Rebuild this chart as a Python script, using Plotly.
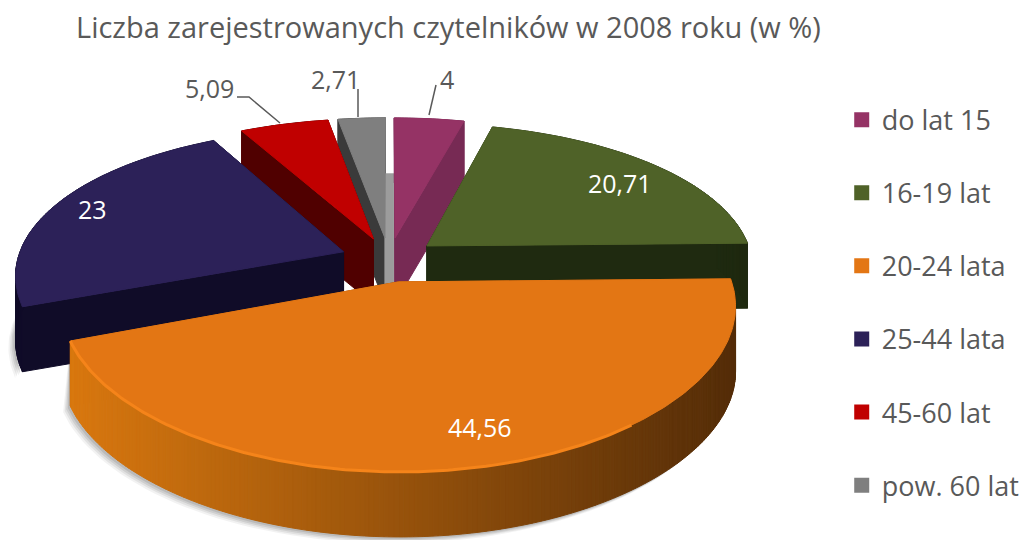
import math
import plotly.graph_objects as go

categories = ["do lat 15", "16-19 lat", "20-24 lata", "25-44 lata", "45-60 lat", "pow. 60 lat"]
values = [4, 20.71, 44.56, 23, 5.09, 2.71]
value_labels = ["4", "20,71", "44,56", "23", "5,09", "2,71"]
top_colors = ["#953365", "#4f6228", "#e37614", "#2c2158", "#c00000", "#7f7f7f"]
wall_colors = ["#772a54", "#1f2a10", "#8a4a0c", "#100c28", "#500000", "#3a3a3a"]
legend_colors = ["#953365", "#4f6228", "#e37614", "#2c2158", "#c00000", "#7f7f7f"]
title = "Liczba zarejestrowanych czytelników w 2008 roku (w %)"

# projection of the tilted disc
CX, CY, AX, BY, PX, PY, THICK, EXPLODE = 389, 259.5, 326, 148, 0.145, 0.175, 65, 0.15


def project(X, Y, drop=0):
    return CX + AX * X / (1 - PX * Y), CY + BY * Y / (1 - PY * Y) + drop


def polar(theta, r=1.0):
    return r * math.sin(theta), -r * math.cos(theta)


fig = go.Figure()


def poly(xs, ys, color, opacity=1, width=1):
    fig.add_trace(go.Scatter(x=xs, y=ys, mode="lines", fill="toself", fillcolor=color,
                             line=dict(color=color, width=width), opacity=opacity,
                             hoverinfo="skip", showlegend=False))


def mix(c1, c2, t):
    a = [int(c1[i:i + 2], 16) for i in (1, 3, 5)]
    b = [int(c2[i:i + 2], 16) for i in (1, 3, 5)]
    return "#%02x%02x%02x" % tuple(round(a[i] + (b[i] - a[i]) * t) for i in range(3))


total = sum(values)
slices = []
start = 0.0
for i, v in enumerate(values):
    sweep = v / total * 2 * math.pi
    slices.append((i, start, start + sweep))
    start += sweep


def geom(s0, s1, n):
    mid = (s0 + s1) / 2
    ex, ey = polar(mid, EXPLODE)
    rim = []
    for k in range(n + 1):
        X, Y = polar(s0 + (s1 - s0) * k / n)
        rim.append((X + ex, Y + ey))
    return (ex, ey), rim


def draw_shadow(s0, s1):
    apex, rim = geom(s0, s1, 80)
    front = [p for p in rim if p[1] > -0.12]
    if len(front) < 2:
        return
    for off, op in ((9, 0.10), (7, 0.14), (5, 0.2), (3, 0.25)):
        xs, ys = [], []
        for X, Y in front:
            x, y = project(X, Y, THICK)
            xs.append(x - off * 0.8)
            ys.append(y + off * 0.7)
        for X, Y in reversed(front):
            x, y = project(X, Y, 0)
            xs.append(x)
            ys.append(y)
        poly(xs, ys, "#808080", op, 0)


def draw_slice(i, s0, s1):
    apex, rim = geom(s0, s1, max(12, int((s1 - s0) * 80)))
    faces = []
    for edge in (rim[0], rim[-1]):
        depth = (apex[1] + edge[1]) / 2
        faces.append((depth, [apex, edge], None))
    for k in range(len(rim) - 1):
        faces.append(((rim[k][1] + rim[k + 1][1]) / 2 + 0.3, [rim[k], rim[k + 1]], k))
    faces.sort(key=lambda f: f[0])
    for _, (a, b), k in faces:
        x1, y1 = project(*a)
        x2, y2 = project(*b)
        x3, y3 = project(*b, THICK)
        x4, y4 = project(*a, THICK)
        color = wall_colors[i]
        if i == 2 and k is not None:
            t = min(1, max(0, ((x1 + x2) / 2 - 70) / 660))
            color = mix("#d9780f", "#552d08", t)
        poly([x1, x2, x3, x4, x1], [y1, y2, y3, y4, y1], color)
    if i == 5:
        # lit end wall of the last slice, seen between it and the first slice
        ax, ay = project(*apex)
        rx, ry = project(*rim[-1])
        poly([ax, ax + 9, ax + 9, ax, ax], [ry + 56, ry + 56, ay + THICK, ay + THICK, ry + 56], "#9c9c9c")
    pts = [apex] + rim + [apex]
    poly([project(*p)[0] for p in pts], [project(*p)[1] for p in pts], top_colors[i])
    if i == 2:
        lit = rim[len(rim) // 3:]
        fig.add_trace(go.Scatter(x=[project(*p)[0] for p in lit], y=[project(*p)[1] for p in lit],
                                 mode="lines", line=dict(color="#f5841a", width=3),
                                 hoverinfo="skip", showlegend=False))


for idx in (3, 2):
    draw_shadow(*slices[idx][1:])
for idx in (5, 0, 4, 1, 3, 2):
    draw_slice(*slices[idx])

# leader lines
for xs, ys in (([429, 436], [115, 85]), ([358, 358], [117, 89]), ([237, 249, 280], [97, 97, 123])):
    fig.add_trace(go.Scatter(x=xs, y=ys, mode="lines", line=dict(color="#595959", width=1.5),
                             hoverinfo="skip", showlegend=False))

# legend entries
for name, color in zip(categories, legend_colors):
    fig.add_trace(go.Scatter(x=[None], y=[None], mode="markers", name=name, legendgroup=name,
                             marker=dict(symbol="square", size=15, color=color)))

label_pos = [(447, 79, "#595959"), (620, 183, "#ffffff"), (480, 427, "#ffffff"),
             (92, 209, "#ffffff"), (209, 88, "#595959"), (335, 79, "#595959")]
annotations = [dict(x=p[0], y=p[1], text=t, showarrow=False, xref="x", yref="y",
                    font=dict(family="Open Sans, sans-serif", size=25, color=p[2]))
               for t, p in zip(value_labels, label_pos)]
annotations.append(dict(x=448, y=26, text=title, showarrow=False, xref="x", yref="y",
                        font=dict(family="Open Sans, sans-serif", size=29, color="#595959")))

fig.update_layout(
    width=1029, height=540, autosize=False,
    margin=dict(l=0, r=0, t=0, b=0, autoexpand=False), paper_bgcolor="white", plot_bgcolor="white",
    xaxis=dict(range=[0, 1029], visible=False, fixedrange=True),
    yaxis=dict(range=[540, 0], visible=False, fixedrange=True),
    annotations=annotations,
    legend=dict(x=0.818, y=0.823, xanchor="left", yanchor="top", tracegroupgap=35,
                font=dict(family="Open Sans, sans-serif", size=27, color="#595959"),
                bgcolor="rgba(0,0,0,0)", itemclick=False, itemdoubleclick=False),
)
fig.write_html("out.html", config={"displayModeBar": False},
               post_script="document.body.style.margin='0';")
